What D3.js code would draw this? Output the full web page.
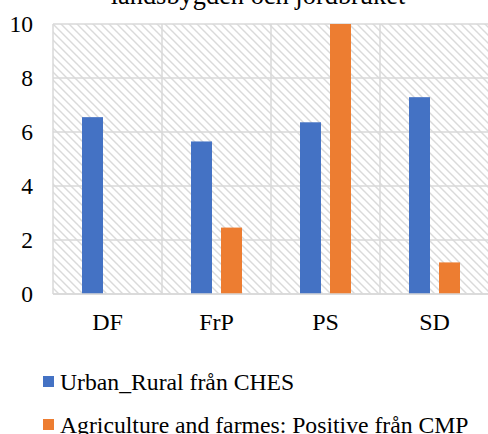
<!DOCTYPE html>
<html>
<head>
<meta charset="utf-8">
<script src="https://cdn.jsdelivr.net/npm/d3@7"></script>
<style>
html,body{margin:0;padding:0;background:#fff;overflow:hidden;}
</style>
</head>
<body>
<svg id="chart" width="488" height="434"></svg>
<script>
const title = "landsbygden och jordbruket";
const categories = ["DF", "FrP", "PS", "SD"];
const seriesNames = ["Urban_Rural från CHES", "Agriculture and farmes: Positive från CMP"];
const urbanRural = [6.55, 5.65, 6.36, 7.29];
const agriculture = [0, 2.46, 10, 1.17];
const yTicks = [0, 2, 4, 6, 8, 10];
const colors = ["#4472C4", "#ED7D31"];

const FONT = "'Liberation Serif', 'Times New Roman', Times, serif";
const seriesValues = [urbanRural, agriculture];
const data = categories.map((c, i) => ({cat: c, vals: seriesValues.map((s, j) => ({key: seriesNames[j], idx: j, v: s[i]}))}));

const svg = d3.select("#chart");
const m = {left: 53, top: 24, right: -1, bottom: 140};
const W = 488, H = 434;
const pw = W - m.left - m.right, ph = H - m.top - m.bottom;

const defs = svg.append("defs");
const pat = defs.append("pattern").attr("id", "hatch").attr("patternUnits", "userSpaceOnUse")
  .attr("width", 8).attr("height", 8);
pat.append("rect").attr("width", 8).attr("height", 8).attr("fill", "#fff");
pat.append("path").attr("d", "M-2,-2 L10,10 M-2,6 L2,10 M6,-2 L10,2")
  .attr("stroke", "#dadada").attr("stroke-width", 1.4);

const g = svg.append("g").attr("transform", `translate(${m.left},${m.top})`);

const x0 = d3.scaleBand().domain(categories).range([0, pw]).padding(0);
const x1 = d3.scaleBand().domain(seriesNames).range([0, x0.bandwidth()]).paddingInner(0.3).paddingOuter(0.967);
const y = d3.scaleLinear().domain([0, 10]).range([ph, 0]);

g.append("rect").attr("width", pw).attr("height", ph).attr("fill", "url(#hatch)");

g.selectAll(".hg").data(yTicks).enter().append("line")
  .attr("x1", 0).attr("x2", pw).attr("y1", d => y(d)).attr("y2", d => y(d))
  .attr("stroke", "#d9d9d9").attr("stroke-width", 1.5);
g.selectAll(".vg").data(categories).enter().append("line")
  .attr("x1", d => x0(d)).attr("x2", d => x0(d)).attr("y1", 0).attr("y2", ph)
  .attr("stroke", "#d9d9d9").attr("stroke-width", 1.5);

const grp = g.selectAll(".grp").data(data).enter().append("g")
  .attr("transform", d => `translate(${x0(d.cat)},0)`);
grp.selectAll("rect").data(d => d.vals).enter().append("rect")
  .attr("x", d => x1(d.key)).attr("width", x1.bandwidth())
  .attr("y", d => y(d.v)).attr("height", d => ph - y(d.v))
  .attr("fill", d => colors[d.idx]);

g.append("line").attr("x1", 0).attr("x2", pw).attr("y1", ph).attr("y2", ph)
  .attr("stroke", "#d9d9d9").attr("stroke-width", 1.5);

const yAxis = d3.axisLeft(y).tickValues(yTicks).tickSize(0).tickPadding(20);
const ya = g.append("g").call(yAxis).attr("font-family", null);
ya.select(".domain").remove();
ya.selectAll("text").style("font-family", FONT).style("font-size", "23.5px").attr("fill", "#000");

const xAxis = d3.axisBottom(x0).tickSize(0).tickPadding(19);
const xa = g.append("g").attr("transform", `translate(0,${ph})`).call(xAxis).attr("font-family", null);
xa.select(".domain").remove();
xa.selectAll("text").style("font-family", FONT).style("font-size", "24px").attr("fill", "#000");

svg.append("text").attr("x", 258).attr("y", 4).attr("text-anchor", "middle")
  .style("font-family", FONT).style("font-size", "26.4px").text(title);

const leg = svg.selectAll(".leg").data(seriesNames).enter().append("g")
  .attr("transform", (d, i) => `translate(43,${376 + i * 43})`);
leg.append("rect").attr("width", 11).attr("height", 11).attr("fill", (d, i) => colors[i]);
leg.append("text").attr("x", 17).attr("y", 13.5)
  .style("font-family", FONT).style("font-size", "23.7px").text(d => d);
</script>
</body>
</html>
